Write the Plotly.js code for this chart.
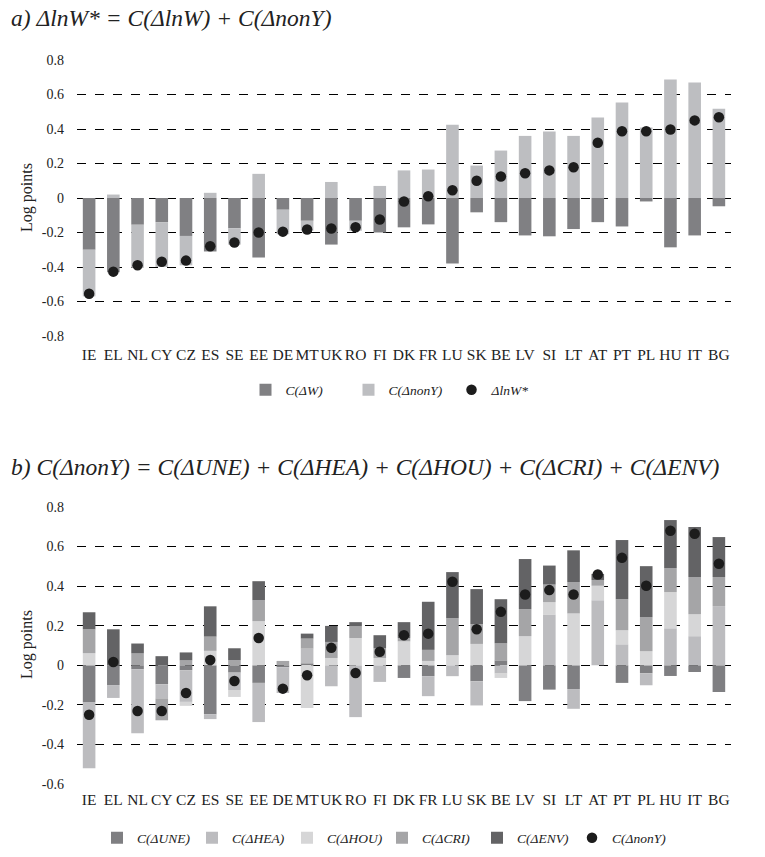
<!DOCTYPE html>
<html>
<head>
<meta charset="utf-8">
<script src="https://cdn.plot.ly/plotly-3.0.1.min.js"></script>
<style>html,body{margin:0;padding:0;background:#fff;}#chart{width:765px;height:857px;}</style>
</head>
<body>
<div id="chart"></div>
<script>
// ---- Data ----
const countries = ["IE","EL","NL","CY","CZ","ES","SE","EE","DE","MT","UK","RO","FI","DK","FR","LU","SK","BE","LV","SI","LT","AT","PT","PL","HU","IT","BG"];

// Panel a
const cW    = [-0.30,-0.43,-0.155,-0.14,-0.22,-0.31,-0.175,-0.345,-0.068,-0.132,-0.27,-0.132,-0.20,-0.17,-0.153,-0.38,-0.083,-0.14,-0.217,-0.222,-0.18,-0.14,-0.165,-0.02,-0.286,-0.217,-0.048];
const cNonY = [-0.27,0.02,-0.25,-0.26,-0.17,0.03,-0.095,0.14,-0.142,-0.058,0.093,-0.058,0.07,0.16,0.165,0.425,0.188,0.275,0.36,0.385,0.36,0.466,0.553,0.408,0.687,0.67,0.518];
const lnWstar = [-0.555,-0.427,-0.39,-0.37,-0.363,-0.28,-0.258,-0.20,-0.195,-0.183,-0.177,-0.17,-0.125,-0.02,0.01,0.045,0.10,0.125,0.143,0.16,0.178,0.32,0.387,0.387,0.397,0.45,0.468];

// Panel b
const UNE = [-0.186,-0.10,-0.02,-0.096,-0.025,-0.248,-0.037,-0.089,-0.01,0.01,0,0,0,-0.064,-0.055,0,-0.081,0.025,-0.181,-0.123,-0.12,0,-0.089,-0.04,-0.054,-0.034,-0.135];
const HEA = [-0.334,-0.065,-0.323,-0.071,-0.16,-0.024,-0.088,-0.198,-0.13,0.074,-0.106,-0.262,-0.084,0,-0.101,-0.055,-0.122,-0.042,0,0.257,-0.10,0.329,0.106,-0.061,0.187,0.147,0.299];
const HOU = [0.061,0,0,0,-0.02,0.073,-0.035,0.223,0,-0.216,0.037,0.138,0.037,0.121,0.022,0.051,0.108,-0.022,0.147,0.062,0.262,0.073,0.071,0.071,0.183,0.111,0];
const CRI = [0.121,0,0.06,-0.111,0.025,0.072,0.026,0.106,0.022,0.051,0.081,0.059,0.049,0.017,0.056,0.187,0.10,0.086,0.137,0.089,0.159,0.029,0.157,0.172,0.121,0.188,0.147];
const ENV = [0.086,0.182,0.05,0.046,0.04,0.153,0.06,0.096,0,0.025,0.081,0.021,0.066,0.08,0.243,0.233,0.177,0.223,0.253,0.096,0.16,0.031,0.299,0.258,0.243,0.253,0.202];
const nonY = [-0.25,0.017,-0.231,-0.231,-0.14,0.027,-0.079,0.138,-0.118,-0.05,0.088,-0.039,0.068,0.152,0.16,0.422,0.182,0.27,0.358,0.38,0.358,0.459,0.543,0.402,0.68,0.665,0.513];

const tickValsA = [-0.8,-0.6,-0.4,-0.2,0,0.2,0.4,0.6,0.8];
const tickTextA = ["-0.8","-0.6","-0.4","-0.2","0","0.2","0.4","0.6","0.8"];
const tickValsB = [-0.6,-0.4,-0.2,0,0.2,0.4,0.6,0.8];
const tickTextB = ["-0.6","-0.4","-0.2","0","0.2","0.4","0.6","0.8"];

// ---- Styling ----
const SERIF = "Liberation Serif";
const W = 765, H = 857;
const px = v => v / W;
const py = v => 1 - v / H;

function bar(name, y, color, xa, ya, leg) {
  return {type:'bar', name:name, x:countries, y:y, xaxis:xa, yaxis:ya, legend:leg,
          marker:{color:color, line:{width:0}}, hoverinfo:'x+y'};
}
function dots(name, y, xa, ya, leg) {
  return {type:'scatter', mode:'markers', name:name, x:countries, y:y, xaxis:xa, yaxis:ya, legend:leg,
          marker:{color:'#1c1c1c', size:10.5, symbol:'circle'}};
}

const data = [
  bar('C(ΔW)', cW, '#808083', 'x', 'y', 'legend'),
  bar('C(ΔnonY)', cNonY, '#bdbec1', 'x', 'y', 'legend'),
  dots('ΔlnW*', lnWstar, 'x', 'y', 'legend'),
  bar('C(ΔUNE)', UNE, '#7f7f82', 'x2', 'y2', 'legend2'),
  bar('C(ΔHEA)', HEA, '#bcbcbf', 'x2', 'y2', 'legend2'),
  bar('C(ΔHOU)', HOU, '#d6d6d7', 'x2', 'y2', 'legend2'),
  bar('C(ΔCRI)', CRI, '#a5a5a7', 'x2', 'y2', 'legend2'),
  bar('C(ΔENV)', ENV, '#636365', 'x2', 'y2', 'legend2'),
  dots('C(ΔnonY)', nonY, 'x2', 'y2', 'legend2')
];

const xDomain = [px(77), px(731)];
const xCommon = {domain:xDomain, type:'category', range:[-0.5, countries.length - 0.5],
  showgrid:false, zeroline:false, showline:false,
  ticks:'', tickangle:0, automargin:false, tickfont:{family:SERIF, size:15.5, color:'#222'}, fixedrange:true};
const yCommon = {showgrid:true, gridcolor:'#000', griddash:'dash', gridwidth:1, zeroline:false,
  showline:false, ticks:'', automargin:false, tickfont:{family:SERIF, size:14, color:'#222'}, ticklabelstandoff:12};

const legendCommon = {orientation:'h', xanchor:'center', yanchor:'middle',
  font:{family:SERIF, size:13.5, color:'#222', style:'italic'}, itemwidth:30, bgcolor:'rgba(0,0,0,0)',
  traceorder:'normal', itemclick:false, entrywidthmode:'pixels'};

const layout = {
  width:W, height:H, margin:{l:0,r:0,t:0,b:0,autoexpand:false}, paper_bgcolor:'#fff', plot_bgcolor:'#fff',
  barmode:'relative', bargap:0.48, showlegend:true,
  font:{family:SERIF},
  xaxis: Object.assign({}, xCommon, {anchor:'y', ticklabelstandoff:7}),
  yaxis: Object.assign({}, yCommon, {domain:[py(336), py(60)], range:[-0.8,0.8], anchor:'x',
          tickvals:tickValsA, ticktext:tickTextA}),
  xaxis2: Object.assign({}, xCommon, {anchor:'y2', ticklabelstandoff:4}),
  yaxis2: Object.assign({}, yCommon, {domain:[py(784), py(507)], range:[-0.6,0.8], anchor:'x2',
          tickvals:tickValsB, ticktext:tickTextB}),
  legend: Object.assign({}, legendCommon, {x:px(400), y:py(390), entrywidth:58}),
  legend2: Object.assign({}, legendCommon, {x:px(382), y:py(838), entrywidth:50}),
  annotations:[
    {text:'a) ΔlnW* = C(ΔlnW) + C(ΔnonY)', xref:'paper', yref:'paper', x:px(9), y:py(18),
     xanchor:'left', yanchor:'middle', showarrow:false,
     font:{family:SERIF, size:23.5, color:'#222', style:'italic'}},
    {text:'b) C(ΔnonY) = C(ΔUNE) + C(ΔHEA) + C(ΔHOU) + C(ΔCRI) + C(ΔENV)', xref:'paper', yref:'paper',
     x:px(9), y:py(467), xanchor:'left', yanchor:'middle', showarrow:false,
     font:{family:SERIF, size:23.5, color:'#222', style:'italic'}},
    {text:'Log points', xref:'paper', yref:'paper', x:px(27), y:py(198), textangle:-90,
     xanchor:'center', yanchor:'middle', showarrow:false, font:{family:SERIF, size:16, color:'#222'}},
    {text:'Log points', xref:'paper', yref:'paper', x:px(27), y:py(645), textangle:-90,
     xanchor:'center', yanchor:'middle', showarrow:false, font:{family:SERIF, size:16, color:'#222'}}
  ]
};

Plotly.newPlot('chart', data, layout, {displayModeBar:false, staticPlot:true});
</script>
</body>
</html>
